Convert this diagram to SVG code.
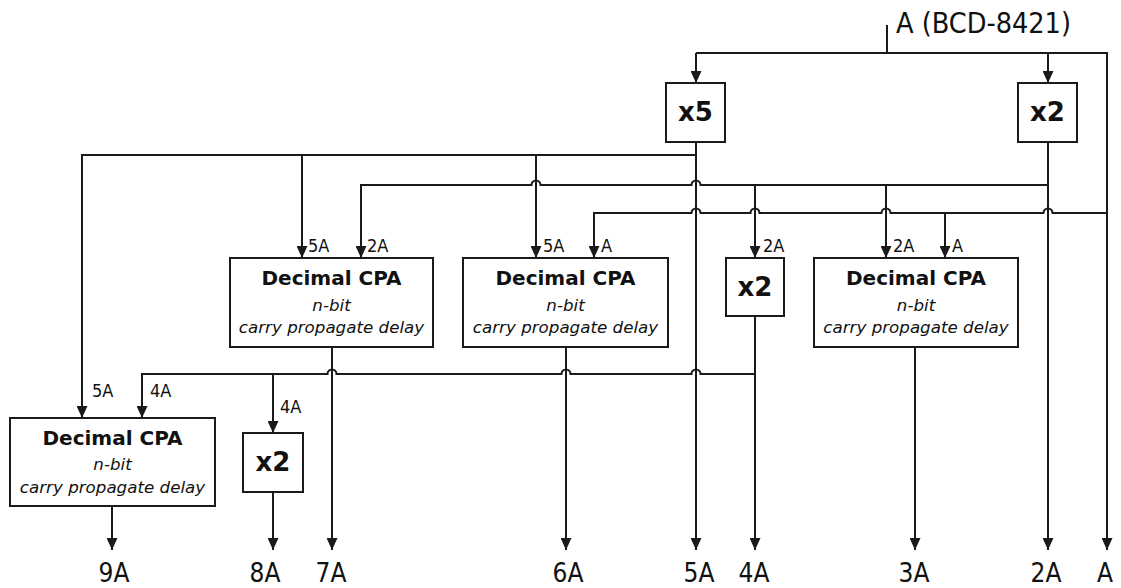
<svg xmlns="http://www.w3.org/2000/svg" width="1121" height="588" viewBox="0 0 1121 588">
  <defs>
    <marker id="arrow" viewBox="0 0 12 11" refX="12" refY="5.5" markerWidth="12" markerHeight="11" markerUnits="userSpaceOnUse" orient="auto">
      <path d="M0,0 L12,5.5 L0,11 z" fill="#1a1a1a"/>
    </marker>
    <style>
      .box { fill: #ffffff; stroke: #1a1a1a; stroke-width: 2; }
      .wire { fill: none; stroke: #1a1a1a; stroke-width: 2; stroke-linejoin: miter; }
      .arr { marker-end: url(#arrow); }
      .title { font-family: "DejaVu Sans", "Liberation Sans", sans-serif; font-weight: bold; font-size: 20px; fill: #111; text-anchor: middle; }
      .sub { font-family: "DejaVu Sans", "Liberation Sans", sans-serif; font-style: italic; font-size: 16.7px; fill: #111; text-anchor: middle; }
      .mul { font-family: "DejaVu Sans", "Liberation Sans", sans-serif; font-weight: bold; font-size: 26px; fill: #111; text-anchor: middle; }
      .lbl { font-family: "DejaVu Sans Condensed", "DejaVu Sans", sans-serif; font-size: 18px; fill: #111; }
      .out { font-family: "DejaVu Sans Condensed", "DejaVu Sans", sans-serif; font-size: 26px; fill: #111; text-anchor: middle; }
      .in { font-family: "DejaVu Sans Condensed", "DejaVu Sans", sans-serif; font-size: 28.5px; fill: #111; }
    </style>
  </defs>
  <rect width="1121" height="588" fill="#ffffff"/>

  <!-- wiring -->
  <g id="connectors">
    <!-- input A distribution -->
    <path class="wire" d="M887,25 V53"/>
    <path class="wire arr" d="M696,53 V83"/>
    <path class="wire arr" d="M696,53 H1107 V550"/>
    <path class="wire arr" d="M1048,53 V83"/>

    <!-- 5A bus from x5 -->
    <path class="wire arr" d="M696,142 V550"/>
    <path class="wire arr" d="M696,155 H82 V418"/>
    <path class="wire arr" d="M302,155 V258"/>
    <path class="wire arr" d="M536,155 V258"/>

    <!-- 2A bus from x2 -->
    <path class="wire arr" d="M1048,142 V550"/>
    <path class="wire arr" d="M1048,185 H700.5 A4.5,4.5 0 0 0 691.5,185 H540.5 A4.5,4.5 0 0 0 531.5,185 H361 V258"/>
    <path class="wire arr" d="M755,185 V258"/>
    <path class="wire arr" d="M886,185 V258"/>

    <!-- A bus -->
    <path class="wire arr" d="M1107,213 H1052.5 A4.5,4.5 0 0 0 1043.5,213 H890.5 A4.5,4.5 0 0 0 881.5,213 H759.5 A4.5,4.5 0 0 0 750.5,213 H700.5 A4.5,4.5 0 0 0 691.5,213 H594 V258"/>
    <path class="wire arr" d="M945,213 V258"/>

    <!-- adder outputs -->
    <path class="wire arr" d="M332,347 V550"/>
    <path class="wire arr" d="M566,347 V550"/>
    <path class="wire arr" d="M915,347 V550"/>

    <!-- 4A bus -->
    <path class="wire arr" d="M755,316 V550"/>
    <path class="wire arr" d="M755,374 H700.5 A4.5,4.5 0 0 0 691.5,374 H570.5 A4.5,4.5 0 0 0 561.5,374 H336.5 A4.5,4.5 0 0 0 327.5,374 H142 V418"/>
    <path class="wire arr" d="M273,374 V433"/>

    <!-- final outputs -->
    <path class="wire arr" d="M273,492 V550"/>
    <path class="wire arr" d="M112,506 V550"/>

    <!-- port labels -->
    <text class="lbl" x="308" y="252">5A</text>
    <text class="lbl" x="367" y="252">2A</text>
    <text class="lbl" x="543" y="252">5A</text>
    <text class="lbl" x="601" y="252">A</text>
    <text class="lbl" x="763" y="252">2A</text>
    <text class="lbl" x="893" y="252">2A</text>
    <text class="lbl" x="952" y="252">A</text>
    <text class="lbl" x="92" y="397">5A</text>
    <text class="lbl" x="150" y="397">4A</text>
    <text class="lbl" x="280" y="413">4A</text>
  </g>

  <!-- input -->
  <g id="input-a">
    <text class="in" x="896" y="33">A (BCD-8421)</text>
  </g>

  <!-- multipliers -->
  <g id="mul-x5">
    <rect class="box" x="666" y="83" width="59" height="59"/>
    <text class="mul" x="695.5" y="121">x5</text>
  </g>
  <g id="mul-x2-top">
    <rect class="box" x="1018" y="83" width="59" height="59"/>
    <text class="mul" x="1047.5" y="121">x2</text>
  </g>
  <g id="mul-x2-mid">
    <rect class="box" x="726" y="258" width="58" height="58"/>
    <text class="mul" x="755" y="296">x2</text>
  </g>
  <g id="mul-x2-low">
    <rect class="box" x="243" y="433" width="60" height="59"/>
    <text class="mul" x="273" y="471">x2</text>
  </g>

  <!-- decimal carry propagate adders -->
  <g id="cpa-7a">
    <rect class="box" x="230" y="258" width="203" height="89"/>
    <text class="title" x="331.5" y="285">Decimal CPA</text>
    <text class="sub" x="331.5" y="311">n-bit</text>
    <text class="sub" x="331.5" y="333">carry propagate delay</text>
  </g>
  <g id="cpa-6a">
    <rect class="box" x="463" y="258" width="205" height="89"/>
    <text class="title" x="565.5" y="285">Decimal CPA</text>
    <text class="sub" x="565.5" y="311">n-bit</text>
    <text class="sub" x="565.5" y="333">carry propagate delay</text>
  </g>
  <g id="cpa-3a">
    <rect class="box" x="814" y="258" width="204" height="89"/>
    <text class="title" x="916" y="285">Decimal CPA</text>
    <text class="sub" x="916" y="311">n-bit</text>
    <text class="sub" x="916" y="333">carry propagate delay</text>
  </g>
  <g id="cpa-9a">
    <rect class="box" x="10" y="418" width="205" height="88"/>
    <text class="title" x="112.5" y="445">Decimal CPA</text>
    <text class="sub" x="112.5" y="470">n-bit</text>
    <text class="sub" x="112.5" y="493">carry propagate delay</text>
  </g>

  <!-- output multiples -->
  <g id="outputs">
    <text class="out" x="114" y="582">9A</text>
    <text class="out" x="265" y="582">8A</text>
    <text class="out" x="331" y="582">7A</text>
    <text class="out" x="568" y="582">6A</text>
    <text class="out" x="699" y="582">5A</text>
    <text class="out" x="754" y="582">4A</text>
    <text class="out" x="914" y="582">3A</text>
    <text class="out" x="1046" y="582">2A</text>
    <text class="out" x="1105" y="582">A</text>
  </g>
</svg>
